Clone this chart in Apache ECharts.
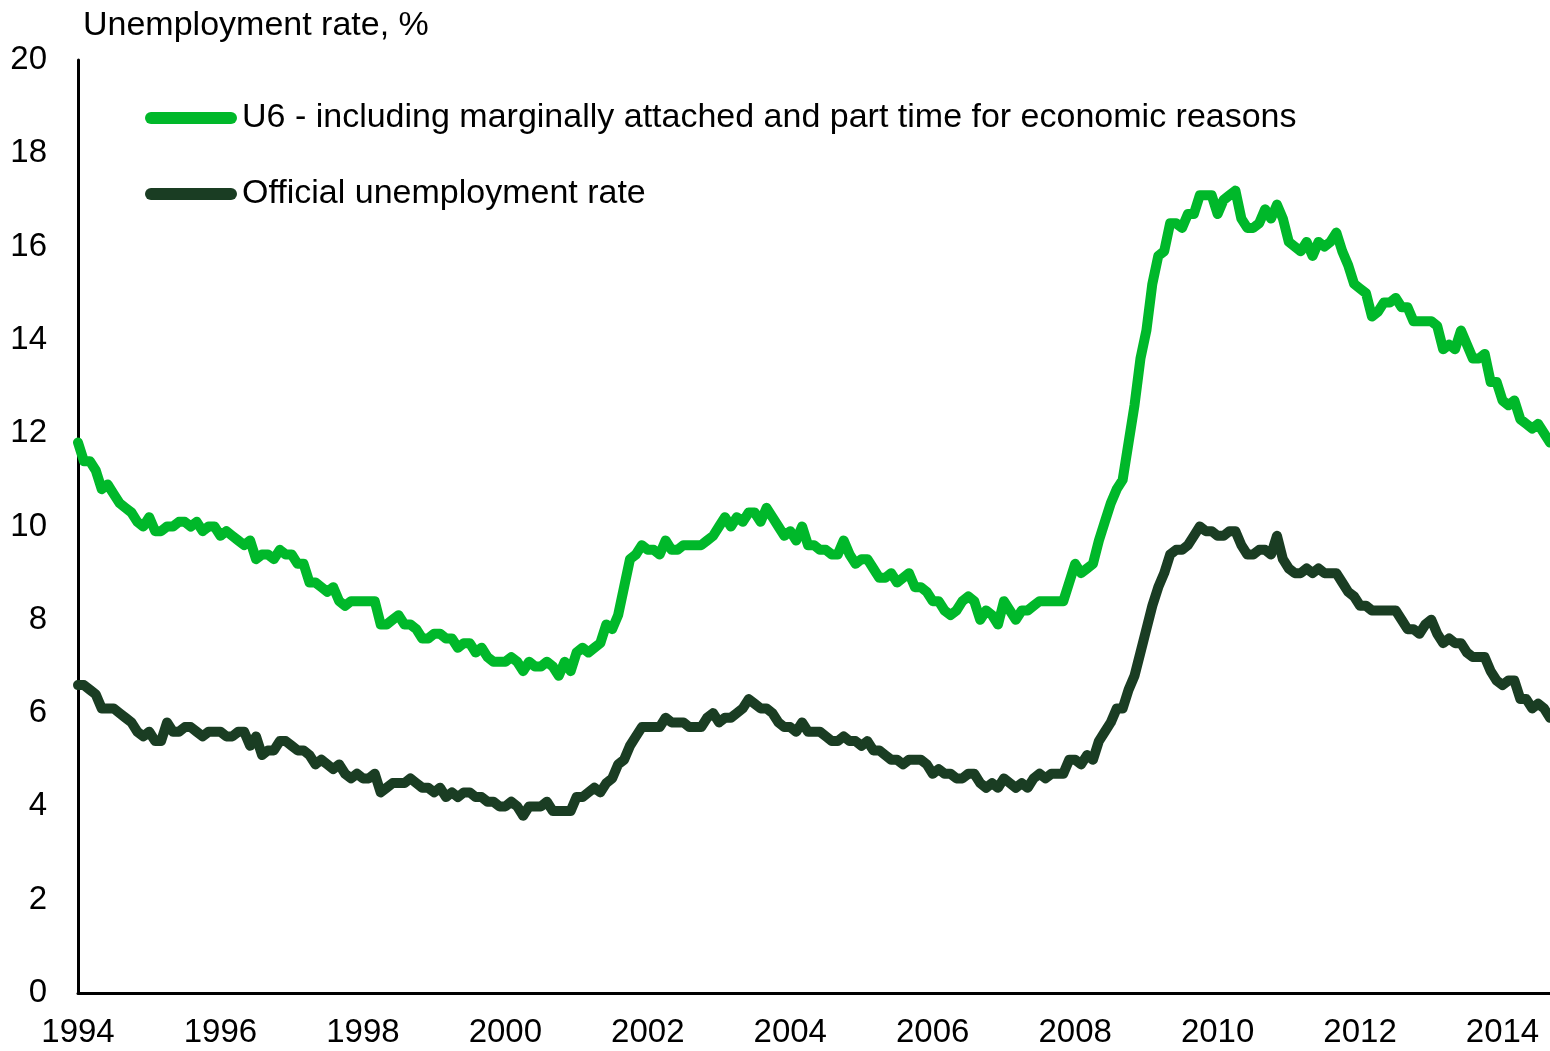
<!DOCTYPE html>
<html>
<head>
<meta charset="utf-8">
<script src="https://cdn.jsdelivr.net/npm/echarts@6/dist/echarts.min.js"></script>
<style>
  html, body { margin: 0; padding: 0; background: #fff; }
  #chart { width: 1550px; height: 1051px; }
</style>
</head>
<body>
<div id="chart"></div>
<script>
// Monthly unemployment rates, Jan 1994 – Sep 2014 (seasonally adjusted, %)
const startYear = 1994;

const u6Rate = [
  11.8,11.4,11.4,11.2,10.8,10.9,10.7,10.5,10.4,10.3,10.1,10.0, // 1994
  10.2,9.9,9.9,10.0,10.0,10.1,10.1,10.0,10.1,9.9,10.0,10.0,    // 1995
  9.8,9.9,9.8,9.7,9.6,9.7,9.3,9.4,9.4,9.3,9.5,9.4,             // 1996
  9.4,9.2,9.2,8.8,8.8,8.7,8.6,8.7,8.4,8.3,8.4,8.4,             // 1997
  8.4,8.4,8.4,7.9,7.9,8.0,8.1,7.9,7.9,7.8,7.6,7.6,             // 1998
  7.7,7.7,7.6,7.6,7.4,7.5,7.5,7.3,7.4,7.2,7.1,7.1,             // 1999
  7.1,7.2,7.1,6.9,7.1,7.0,7.0,7.1,7.0,6.8,7.1,6.9,             // 2000
  7.3,7.4,7.3,7.4,7.5,7.9,7.8,8.1,8.7,9.3,9.4,9.6,             // 2001
  9.5,9.5,9.4,9.7,9.5,9.5,9.6,9.6,9.6,9.6,9.7,9.8,             // 2002
  10.0,10.2,10.0,10.2,10.1,10.3,10.3,10.1,10.4,10.2,10.0,9.8,  // 2003
  9.9,9.7,10.0,9.6,9.6,9.5,9.5,9.4,9.4,9.7,9.4,9.2,            // 2004
  9.3,9.3,9.1,8.9,8.9,9.0,8.8,8.9,9.0,8.7,8.7,8.6,             // 2005
  8.4,8.4,8.2,8.1,8.2,8.4,8.5,8.4,8.0,8.2,8.1,7.9,             // 2006
  8.4,8.2,8.0,8.2,8.2,8.3,8.4,8.4,8.4,8.4,8.4,8.8,             // 2007
  9.2,9.0,9.1,9.2,9.7,10.1,10.5,10.8,11.0,11.8,12.6,13.6,      // 2008
  14.2,15.2,15.8,15.9,16.5,16.5,16.4,16.7,16.7,17.1,17.1,17.1, // 2009
  16.7,17.0,17.1,17.2,16.6,16.4,16.4,16.5,16.8,16.6,16.9,16.6, // 2010
  16.1,16.0,15.9,16.1,15.8,16.1,16.0,16.1,16.3,15.9,15.6,15.2, // 2011
  15.1,15.0,14.5,14.6,14.8,14.8,14.9,14.7,14.7,14.4,14.4,14.4, // 2012
  14.4,14.3,13.8,13.9,13.8,14.2,13.9,13.6,13.6,13.7,13.1,13.1, // 2013
  12.7,12.6,12.7,12.3,12.2,12.1,12.2,12.0,11.8                 // 2014
];

const officialRate = [
  6.6,6.6,6.5,6.4,6.1,6.1,6.1,6.0,5.9,5.8,5.6,5.5, // 1994
  5.6,5.4,5.4,5.8,5.6,5.6,5.7,5.7,5.6,5.5,5.6,5.6, // 1995
  5.6,5.5,5.5,5.6,5.6,5.3,5.5,5.1,5.2,5.2,5.4,5.4, // 1996
  5.3,5.2,5.2,5.1,4.9,5.0,4.9,4.8,4.9,4.7,4.6,4.7, // 1997
  4.6,4.6,4.7,4.3,4.4,4.5,4.5,4.5,4.6,4.5,4.4,4.4, // 1998
  4.3,4.4,4.2,4.3,4.2,4.3,4.3,4.2,4.2,4.1,4.1,4.0, // 1999
  4.0,4.1,4.0,3.8,4.0,4.0,4.0,4.1,3.9,3.9,3.9,3.9, // 2000
  4.2,4.2,4.3,4.4,4.3,4.5,4.6,4.9,5.0,5.3,5.5,5.7, // 2001
  5.7,5.7,5.7,5.9,5.8,5.8,5.8,5.7,5.7,5.7,5.9,6.0, // 2002
  5.8,5.9,5.9,6.0,6.1,6.3,6.2,6.1,6.1,6.0,5.8,5.7, // 2003
  5.7,5.6,5.8,5.6,5.6,5.6,5.5,5.4,5.4,5.5,5.4,5.4, // 2004
  5.3,5.4,5.2,5.2,5.1,5.0,5.0,4.9,5.0,5.0,5.0,4.9, // 2005
  4.7,4.8,4.7,4.7,4.6,4.6,4.7,4.7,4.5,4.4,4.5,4.4, // 2006
  4.6,4.5,4.4,4.5,4.4,4.6,4.7,4.6,4.7,4.7,4.7,5.0, // 2007
  5.0,4.9,5.1,5.0,5.4,5.6,5.8,6.1,6.1,6.5,6.8,7.3, // 2008
  7.8,8.3,8.7,9.0,9.4,9.5,9.5,9.6,9.8,10.0,9.9,9.9,// 2009
  9.8,9.8,9.9,9.9,9.6,9.4,9.4,9.5,9.5,9.4,9.8,9.3, // 2010
  9.1,9.0,9.0,9.1,9.0,9.1,9.0,9.0,9.0,8.8,8.6,8.5, // 2011
  8.3,8.3,8.2,8.2,8.2,8.2,8.2,8.0,7.8,7.8,7.7,7.9, // 2012
  8.0,7.7,7.5,7.6,7.5,7.5,7.3,7.2,7.2,7.2,6.9,6.7, // 2013
  6.6,6.7,6.7,6.3,6.3,6.1,6.2,6.1,5.9              // 2014
];

const seriesNames = [
  'U6 - including marginally attached and part time for economic reasons',
  'Official unemployment rate'
];
const yTicks = { min: 0, max: 20, step: 2 };
const labelEveryMonths = 24;

// Month categories "YYYY-MM"
const months = u6Rate.map((_, i) => {
  const y = startYear + Math.floor(i / 12);
  const m = (i % 12) + 1;
  return y + '-' + (m < 10 ? '0' + m : m);
});

const FONT = '"Liberation Sans", Arial, sans-serif';
const U6_COLOR = '#00B82A';
const OFFICIAL_COLOR = '#1A3D23';

const chart = echarts.init(document.getElementById('chart'), null, { renderer: 'canvas' });

chart.setOption({
  animation: false,
  backgroundColor: '#ffffff',
  textStyle: { fontFamily: FONT },
  title: {
    text: 'Unemployment rate, %',
    left: 78,
    top: 4,
    textStyle: { fontFamily: FONT, fontSize: 34, fontWeight: 'normal', color: '#000' }
  },
  legend: {
    orient: 'vertical',
    left: 140,
    top: 96,
    itemWidth: 92,
    itemHeight: 12,
    itemGap: 42,
    icon: 'path://M6,0 H86 A6,6 0 0 1 86,12 H6 A6,6 0 0 1 6,0 Z',
    textStyle: { fontFamily: FONT, fontSize: 34, color: '#000' },
    data: seriesNames
  },
  grid: { left: 78, right: 0, top: 60, bottom: 58, containLabel: false },
  xAxis: {
    type: 'category',
    data: months,
    boundaryGap: false,
    axisLine: { show: true, lineStyle: { color: '#000', width: 3 } },
    axisTick: { show: false },
    splitLine: { show: false },
    axisLabel: {
      interval: (idx) => idx % labelEveryMonths === 0,
      formatter: (v) => v.slice(0, 4),
      fontFamily: FONT,
      fontSize: 33,
      color: '#000',
      margin: 23
    }
  },
  yAxis: {
    type: 'value',
    min: yTicks.min,
    max: yTicks.max,
    interval: yTicks.step,
    axisLine: { show: true, lineStyle: { color: '#000', width: 3 } },
    axisTick: { show: false },
    splitLine: { show: false },
    axisLabel: { fontFamily: FONT, fontSize: 33, color: '#000', margin: 31 }
  },
  series: [
    {
      name: seriesNames[0],
      type: 'line',
      data: u6Rate,
      showSymbol: false,
      symbol: 'none',
      color: U6_COLOR,
      lineStyle: { color: U6_COLOR, width: 10, cap: 'round', join: 'round' },
      z: 3
    },
    {
      name: seriesNames[1],
      type: 'line',
      data: officialRate,
      showSymbol: false,
      symbol: 'none',
      color: OFFICIAL_COLOR,
      lineStyle: { color: OFFICIAL_COLOR, width: 10, cap: 'round', join: 'round' },
      z: 3
    }
  ]
});
</script>
</body>
</html>
